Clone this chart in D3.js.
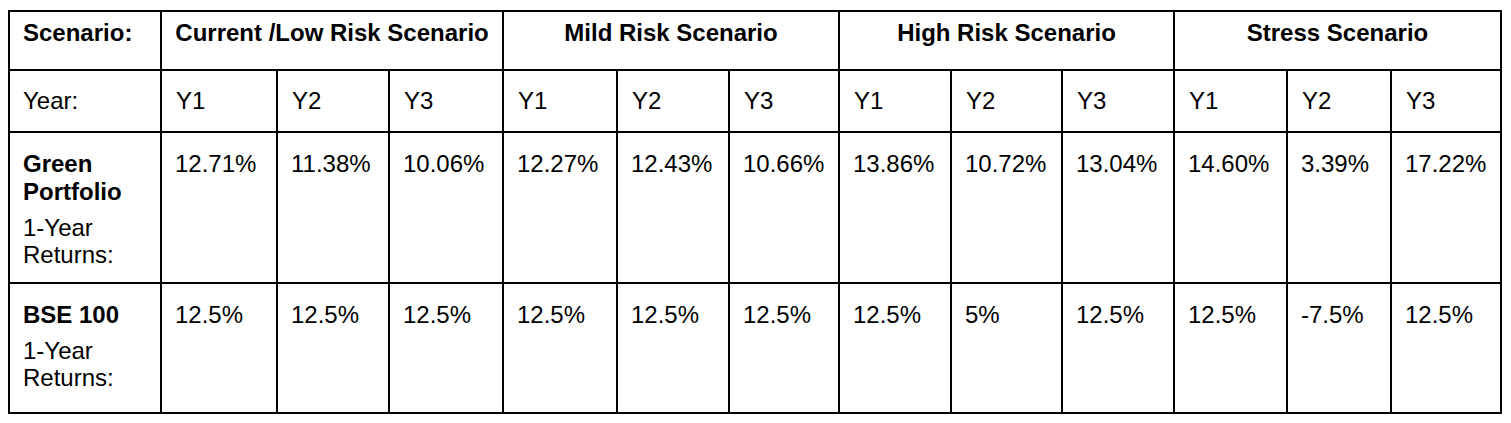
<!DOCTYPE html>
<html>
<head>
<meta charset="utf-8">
<script src="https://d3js.org/d3.v7.min.js"></script>
<style>
body {
  margin: 0;
  background: white;
  font-family: Arial, "Liberation Sans", Helvetica, sans-serif;
}
</style>
<title>Scenario returns</title>
</head>
<body>
<div id="chart"></div>
<script>
// table content
const scenarios = ["Current /Low Risk Scenario", "Mild Risk Scenario", "High Risk Scenario", "Stress Scenario"];
const years = ["Y1", "Y2", "Y3"];
const greenReturns = [12.71, 11.38, 10.06, 12.27, 12.43, 10.66, 13.86, 10.72, 13.04, 14.60, 3.39, 17.22];
const bseReturns = [12.5, 12.5, 12.5, 12.5, 12.5, 12.5, 12.5, 5, 12.5, 12.5, -7.5, 12.5];
const headLabels = ["Scenario:", "Year:"];
const rowLabels = [
  {bold: ["Green", "Portfolio"], plain: ["1-Year", "Returns:"]},
  {bold: ["BSE 100"], plain: ["1-Year", "Returns:"]}
];

// layout
const width = 1511;
const height = 423;
const fontSize = 24;
const pad = 14;
// column edges (label column, then 12 year columns) and row edges
const colEdges = [9, 161, 277, 389, 503, 617, 729, 839, 951, 1062, 1174, 1287, 1391, 1501];
const rowEdges = [11, 70, 132, 283, 413];

const nCols = scenarios.length * years.length;
const colX = d3.scaleOrdinal().domain(d3.range(nCols + 2)).range(colEdges);
const rowY = d3.scaleOrdinal().domain(d3.range(rowEdges.length)).range(rowEdges);

// plain hyphen for negatives, like the source table
const locale = d3.formatLocale({decimal: ".", thousands: ",", grouping: [3], currency: ["", ""], minus: "-"});

const svg = d3.create("svg")
    .attr("width", width)
    .attr("height", height)
    .attr("viewBox", [0, 0, width, height])
    .style("font-family", "Arial, 'Liberation Sans', Helvetica, sans-serif")
    .style("font-size", fontSize + "px")
    .attr("fill", "#000");

// year cells: one column per scenario/year pair
const cols = d3.cross(scenarios, years).map(([s, y], i) => ({scenario: s, year: y, i: i + 1}));

// header row: scenario groups
svg.append("text")
    .attr("x", colX(0) + pad)
    .attr("y", rowY(0) + 30)
    .attr("font-weight", "bold")
    .text(headLabels[0]);

svg.append("g")
  .selectAll("text")
  .data(scenarios)
  .join("text")
    .attr("x", (d, i) => (colX(i * 3 + 1) + colX(i * 3 + 4)) / 2)
    .attr("y", rowY(0) + 30)
    .attr("text-anchor", "middle")
    .attr("font-weight", "bold")
    .text(d => d);

// year row
svg.append("text")
    .attr("x", colX(0) + pad)
    .attr("y", rowY(1) + 39)
    .text(headLabels[1]);

svg.append("g")
  .selectAll("text")
  .data(cols)
  .join("text")
    .attr("x", d => colX(d.i) + pad + 1)
    .attr("y", rowY(1) + 39)
    .text(d => d.year);

// data rows
const fmtGreen = d => locale.format(".2f")(d) + "%";
const fmtBse = d => locale.format("~")(d) + "%";
const series = [
  {values: greenReturns, fmt: fmtGreen},
  {values: bseReturns, fmt: fmtBse}
];

series.forEach((s, r) => {
  const top = rowY(r + 2);
  const lab = rowLabels[r];
  const g = svg.append("g");
  let y = top + 40;
  lab.bold.forEach(t => {
    g.append("text")
        .attr("x", colX(0) + pad)
        .attr("y", y)
        .attr("font-weight", "bold")
        .text(t);
    y += 28;
  });
  y += 8;
  lab.plain.forEach(t => {
    g.append("text")
        .attr("x", colX(0) + pad)
        .attr("y", y)
        .text(t);
    y += 27;
  });

  g.selectAll("text.val")
    .data(s.values)
    .join("text")
      .attr("class", "val")
      .attr("x", (d, i) => colX(i + 1) + pad)
      .attr("y", top + 40)
      .text(d => s.fmt(d));
});

// grid lines
const grid = svg.append("g")
    .attr("stroke", "#000")
    .attr("stroke-width", 2)
    .attr("fill", "none");

// outer frame
grid.append("rect")
    .attr("x", colX(0))
    .attr("y", rowY(0))
    .attr("width", colX(nCols + 1) - colX(0))
    .attr("height", rowY(rowEdges.length - 1) - rowY(0));

// horizontal rules
grid.selectAll("line.h")
  .data(d3.range(1, rowEdges.length - 1))
  .join("line")
    .attr("class", "h")
    .attr("x1", colX(0))
    .attr("x2", colX(nCols + 1))
    .attr("y1", d => rowY(d))
    .attr("y2", d => rowY(d));

// vertical rules: group edges span the whole table, inner year edges start below header
grid.selectAll("line.v")
  .data(d3.range(1, nCols + 1))
  .join("line")
    .attr("class", "v")
    .attr("x1", d => colX(d))
    .attr("x2", d => colX(d))
    .attr("y1", d => (d - 1) % 3 === 0 ? rowY(0) : rowY(1))
    .attr("y2", rowY(rowEdges.length - 1));

document.getElementById("chart").appendChild(svg.node());
</script>
</body>
</html>
